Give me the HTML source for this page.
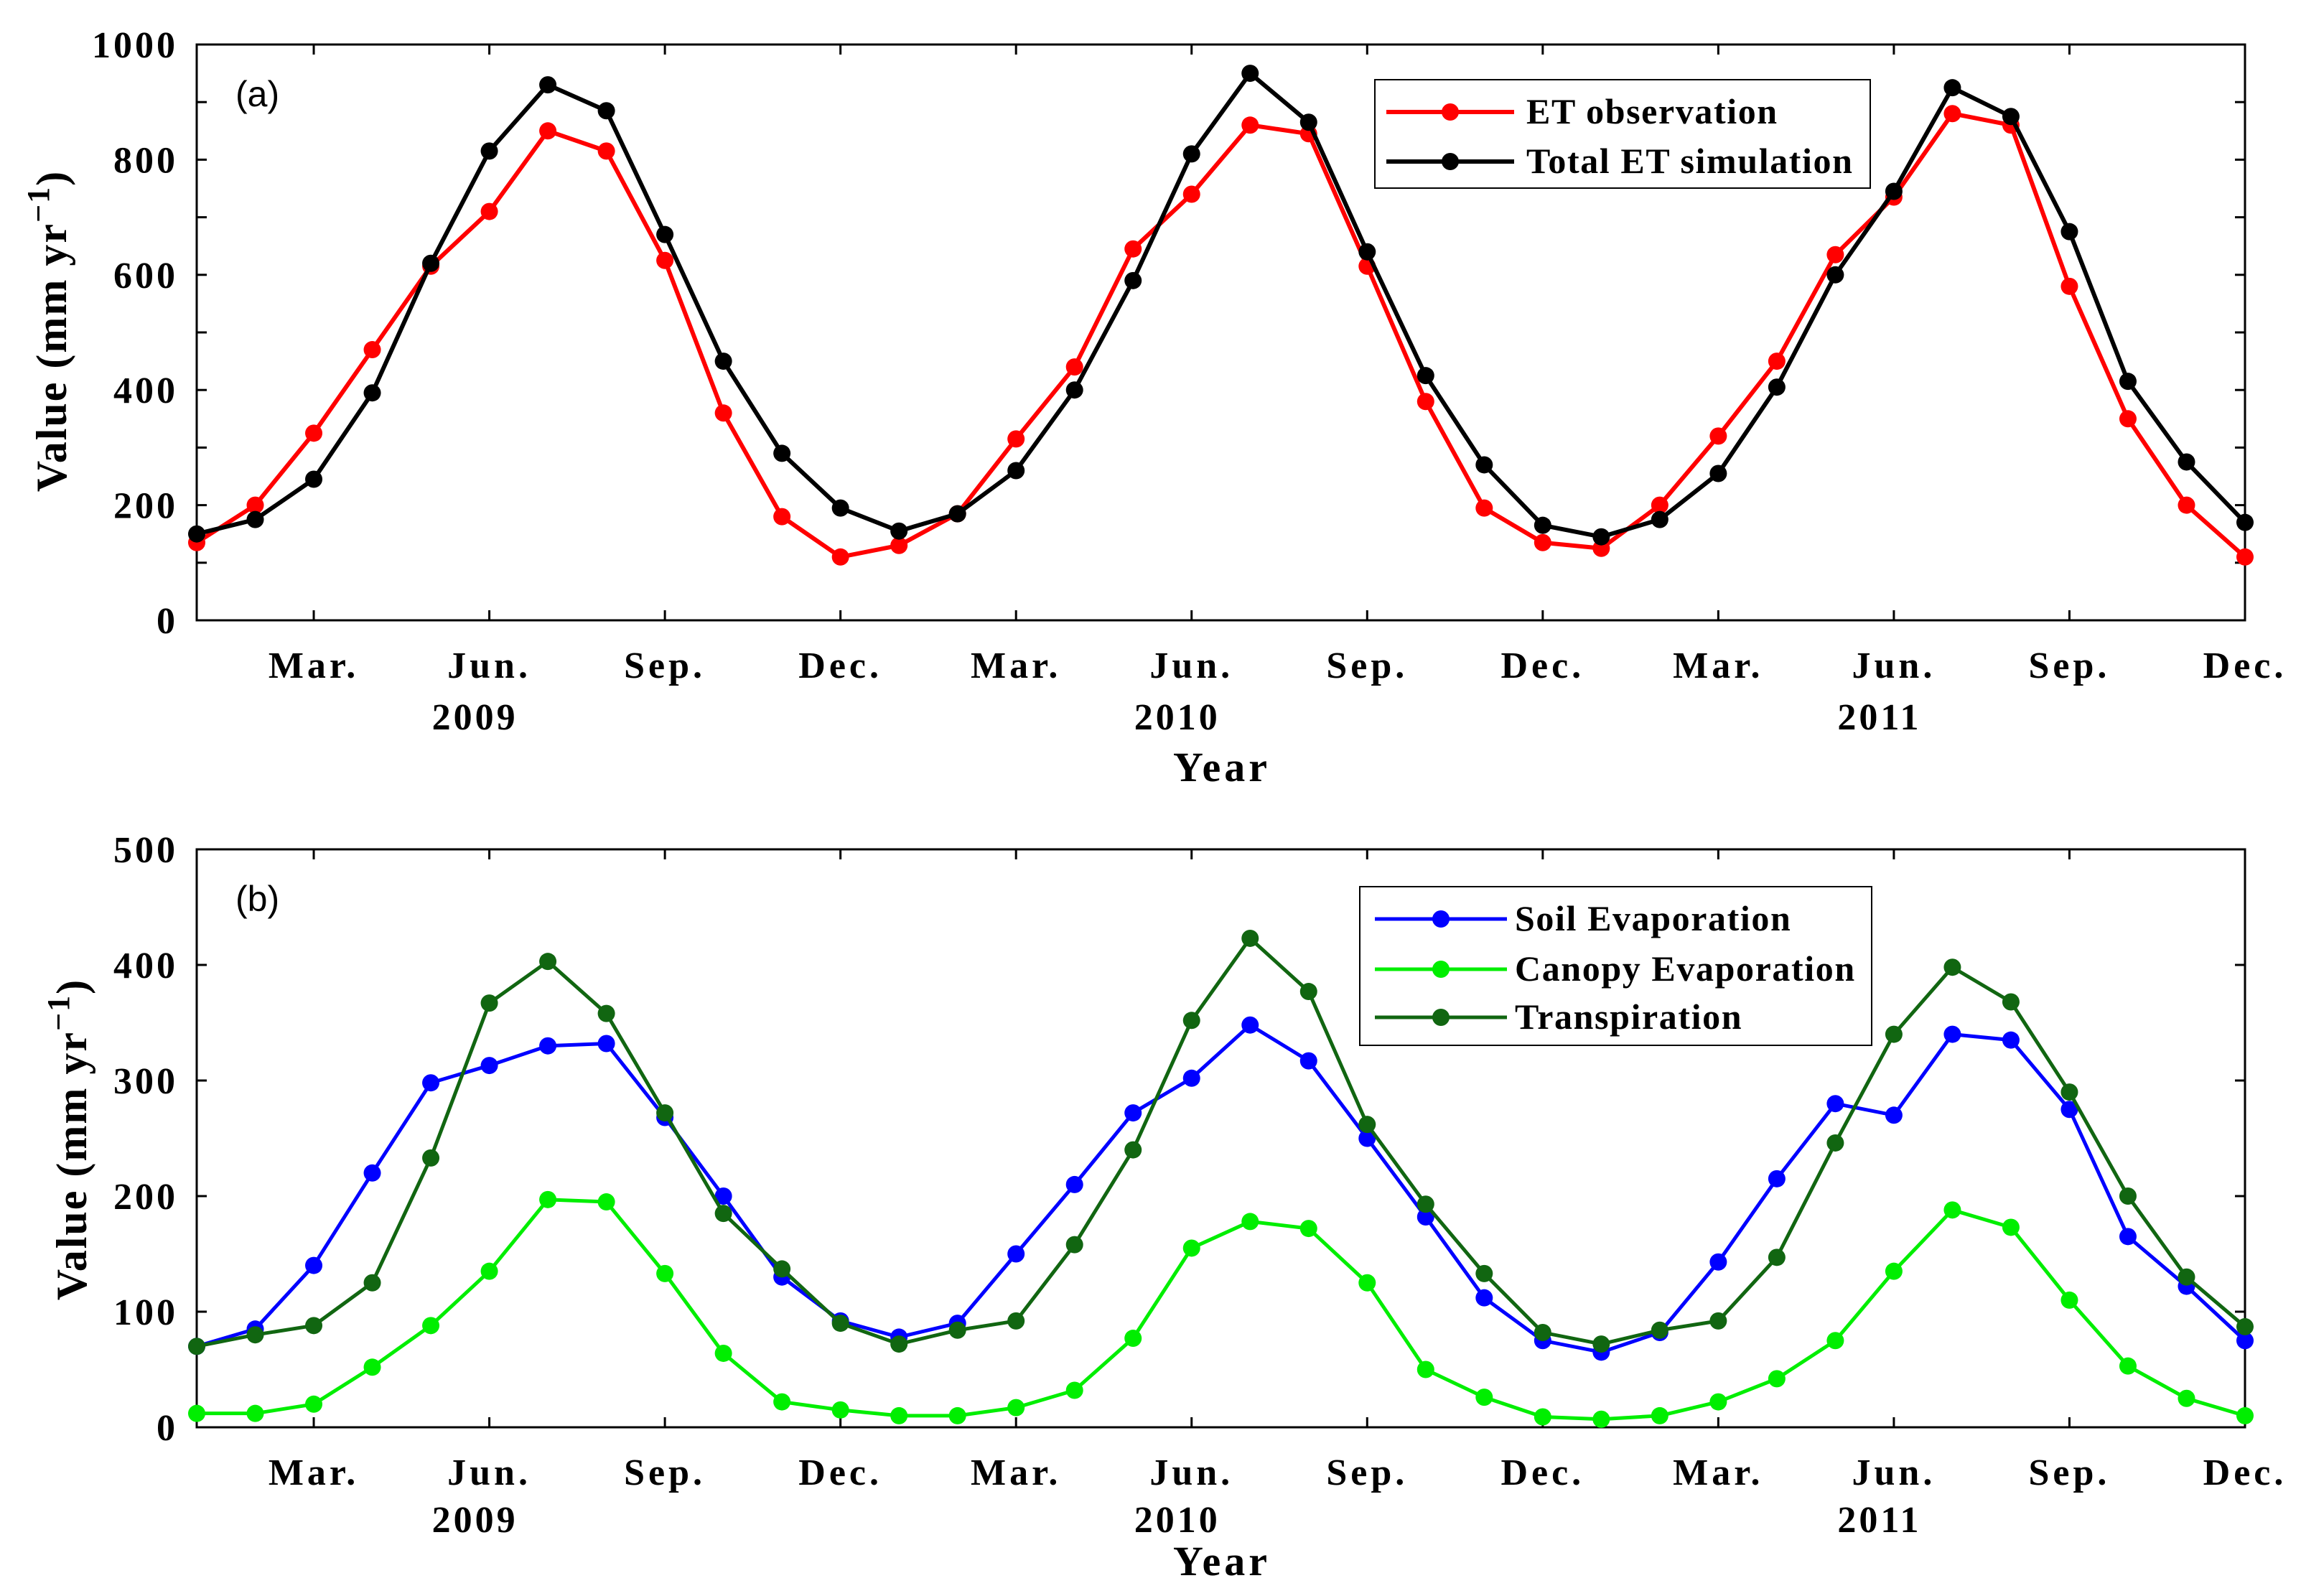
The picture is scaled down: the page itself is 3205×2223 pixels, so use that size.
<!DOCTYPE html>
<html><head><meta charset="utf-8"><style>
html,body{margin:0;padding:0;background:#fff}
svg{display:block}
text{font-family:"Liberation Serif",serif;font-weight:bold;fill:#000}
</style></head><body>
<svg id="c" width="3205" height="2223" viewBox="0 0 3205 2223" xmlns="http://www.w3.org/2000/svg"></svg>
<script>
const months = ["Jan","Feb","Mar","Apr","May","Jun","Jul","Aug","Sep","Oct","Nov","Dec"];
const monthTickLabels = ["Mar.","Jun.","Sep.","Dec.","Mar.","Jun.","Sep.","Dec.","Mar.","Jun.","Sep.","Dec."];
const monthTickIndex = [2,5,8,11,14,17,20,23,26,29,32,35];
const yearLabels = ["2009","2010","2011"];
const yearLabelIndex = [5,17,29];
const etObs = [135,200,325,470,615,710,850,815,625,360,180,110,130,185,315,440,645,740,860,845,615,380,195,135,125,200,320,450,635,735,880,860,580,350,200,110];
const etSim = [150,175,245,395,620,815,930,885,670,450,290,195,155,185,260,400,590,810,950,865,640,425,270,165,145,175,255,405,600,745,925,875,675,415,275,170];
const soilEvap = [70,85,140,220,298,313,330,332,268,200,130,92,78,90,150,210,272,302,348,317,250,182,112,75,65,82,143,215,280,270,340,335,275,165,122,75];
const canopyEvap = [12,12,20,52,88,135,197,195,133,64,22,15,10,10,17,32,77,155,178,172,125,50,26,9,7,10,22,42,75,135,188,173,110,53,25,10];
const transp = [70,80,88,125,233,367,403,358,272,185,137,90,72,84,92,158,240,352,423,377,262,193,133,82,72,84,92,147,246,340,398,368,290,200,130,87];
const topTicks = [0,100,200,300,400,500,600,700,800,900,1000];
const topTickLabels = ["0","","200","","400","","600","","800","","1000"];
const botTicks = [0,100,200,300,400,500];
const botTickLabels = ["0","100","200","300","400","500"];

const NS="http://www.w3.org/2000/svg";
const svg=document.getElementById('c');
function el(tag,attrs,parent){const e=document.createElementNS(NS,tag);for(const k in attrs)e.setAttribute(k,attrs[k]);(parent||svg).appendChild(e);return e;}
const X0=274,X1=3127;
const xs=i=>X0+(X1-X0)*i/35;

function panel(cfg){
  const g=el('g',{});
  
  
  const ys=v=>cfg.yb-(cfg.yb-cfg.yt)*v/cfg.ymax;
  const fr=el('rect',{x:X0,y:cfg.yt,width:X1-X0,height:cfg.yb-cfg.yt,fill:'none',stroke:'#000','stroke-width':3},g);
  
  
  cfg.ticks.forEach((v,k)=>{
    const y=ys(v);
    el('line',{x1:X0,x2:X0+14,y1:y,y2:y,stroke:'#000','stroke-width':3},g);
    el('line',{x1:X1,x2:X1-14,y1:y,y2:y,stroke:'#000','stroke-width':3},g);
    if(cfg.tickLabels[k]){
      const t=el('text',{x:X0-26,y:y+18,'text-anchor':'end','font-size':52,'letter-spacing':4},g);
      t.textContent=cfg.tickLabels[k];
      
      
    }
  });
  monthTickIndex.forEach((i,k)=>{
    const x=xs(i);
    el('line',{x1:x,x2:x,y1:cfg.yb,y2:cfg.yb-14,stroke:'#000','stroke-width':3},g);
    el('line',{x1:x,x2:x,y1:cfg.yt,y2:cfg.yt+14,stroke:'#000','stroke-width':3},g);
    const t=el('text',{x:x,y:cfg.yb+80,'text-anchor':'middle','font-size':52,'letter-spacing':5},g);
    t.textContent=monthTickLabels[k];
    
    
  });
  yearLabelIndex.forEach((i,k)=>{
    const t=el('text',{x:xs(i)-20,y:cfg.yb+cfg.yearDy,'text-anchor':'middle','font-size':52,'letter-spacing':4},g);
    t.textContent=yearLabels[k];
    
    
  });
  const xt=el('text',{x:1702,y:cfg.yb+cfg.titleDy,'text-anchor':'middle','font-size':58,'letter-spacing':5},g);
  xt.textContent='Year';
  
  
  const yt=el('text',{x:0,y:0,'text-anchor':'middle','font-size':60,'letter-spacing':2,transform:`translate(${cfg.ytx},${cfg.yty}) rotate(-90)`},g);
  yt.innerHTML='Value (mm yr<tspan dy="-24" font-size="44">−1</tspan><tspan dy="24">)</tspan>';
  
  
  const pl=el('text',{x:328,y:cfg.yt+86,'font-size':50,style:'font-family:"Liberation Sans",sans-serif;font-weight:normal'},g);
  pl.textContent=cfg.label;
  
  
  cfg.series.forEach(s=>{
    const sg=el('g',{},g);
    
    
    el('polyline',{points:s.data.map((v,i)=>xs(i)+','+ys(v)).join(' '),fill:'none',stroke:s.color,'stroke-width':cfg.lw,'stroke-linejoin':'round'},sg);
    s.data.forEach((v,i)=>{
      const c=el('circle',{cx:xs(i),cy:ys(v),r:12,fill:s.color},sg);
      
      
    });
  });
  const L=cfg.legend;
  const lg=el('g',{},g);
  
  
  el('rect',{x:L.x,y:L.y,width:L.w,height:L.h,fill:'#fff',stroke:'#000','stroke-width':2},lg);
  cfg.series.forEach((s,k)=>{
    const y=L.ey[k];
    const eg=el('g',{},lg);
    
    
    el('line',{x1:L.lx1,x2:L.lx2,y1:y,y2:y,stroke:s.color,'stroke-width':cfg.lw},eg);
    el('circle',{cx:(L.lx1+L.lx2)/2,cy:y,r:12,fill:s.color},eg);
    const t=el('text',{x:L.tx,y:y+16,'font-size':50,'letter-spacing':1.6},eg);
    t.textContent=s.label;
  });
}
panel({name:'panel-a',yt:62,yb:864,ymax:1000,ticks:topTicks,tickLabels:topTickLabels,yearDy:152,titleDy:224,ytx:92,yty:461,label:'(a)',lw:6,
  series:[{name:'et-observation-series',label:'ET observation',color:'#ff0000',data:etObs},
          {name:'total-et-simulation-series',label:'Total ET simulation',color:'#000000',data:etSim}],
  legend:{x:1915,y:111,w:690,h:151,ey:[156,225],lx1:1931,lx2:2109,tx:2126}});
panel({name:'panel-b',yt:1183,yb:1988,ymax:500,ticks:botTicks,tickLabels:botTickLabels,yearDy:146,titleDy:206,ytx:120,yty:1587,label:'(b)',lw:5,
  series:[{name:'soil-evaporation-series',label:'Soil Evaporation',color:'#0000ff',data:soilEvap},
          {name:'canopy-evaporation-series',label:'Canopy Evaporation',color:'#00ee00',data:canopyEvap},
          {name:'transpiration-series',label:'Transpiration',color:'#116611',data:transp}],
  legend:{x:1894,y:1235,w:713,h:221,ey:[1280,1350,1417],lx1:1915,lx2:2099,tx:2110}});
</script>
</body></html>
